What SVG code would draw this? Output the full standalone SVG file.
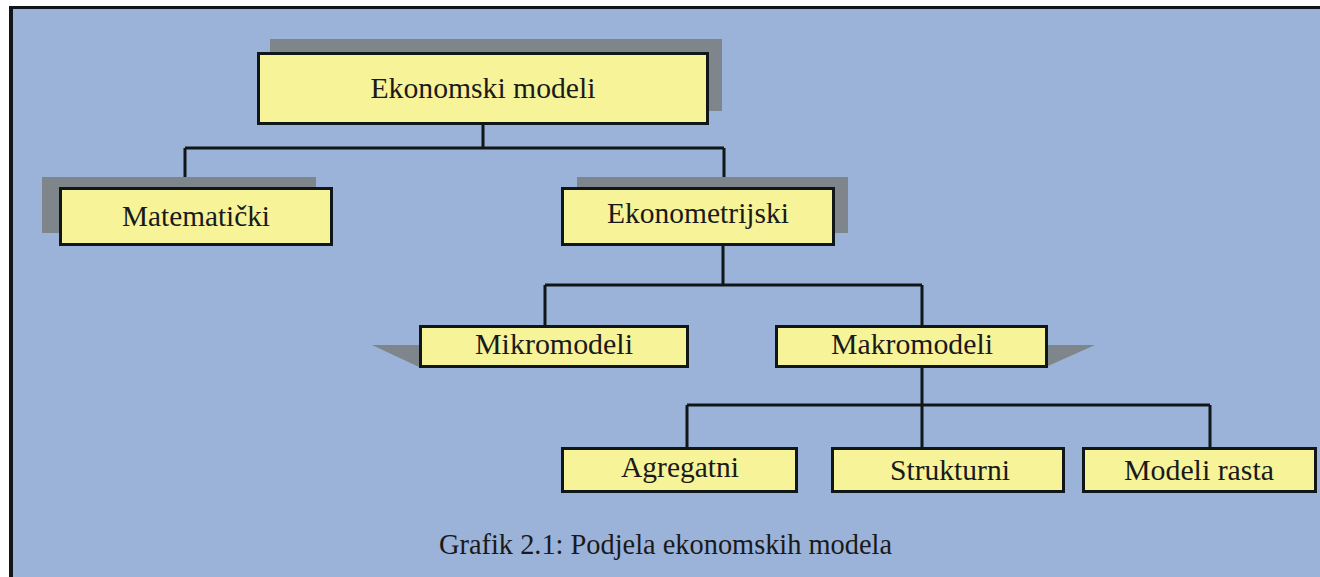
<svg xmlns="http://www.w3.org/2000/svg" width="1320" height="577" viewBox="0 0 1320 577">
<style>
.bg{fill:#9BB3D8}
.frame{fill:#111719}
.shadow{fill:#7F868B}
.box{fill:#F7F399;stroke:#111719;stroke-width:3}
.lbl{font-family:"Liberation Serif","Times New Roman",serif;font-size:29px;fill:#1a1a1a;text-anchor:middle}
.cap{font-family:"Liberation Serif","Times New Roman",serif;font-size:29px;fill:#1a1a1a}
.conn{fill:none;stroke:#111719;stroke-width:3}
</style>
<rect x="0" y="0" width="1320" height="577" fill="#ffffff"/>
<rect class="bg" x="9" y="6" width="1311" height="571"/>
<rect class="frame" x="9" y="6" width="1311" height="3"/>
<rect class="frame" x="9" y="6" width="4" height="571"/>

<g id="connectors">
<path class="conn" d="M483 125 V148 M185 148 H724 M185 148 V187 M724 148 V187"/>
<path class="conn" d="M723 246 V285 M545 285 H922 M545 285 V325 M922 285 V325"/>
<path class="conn" d="M922 368 V405 M687 405 H1210 M687 405 V447 M922 405 V447 M1210 405 V447"/>
</g>

<g id="node-ekonomski-modeli">
<rect class="shadow" x="270" y="39" width="452" height="72"/>
<rect class="box" x="258.5" y="53.5" width="449" height="70"/>
<text class="lbl" x="483" y="98" textLength="225" lengthAdjust="spacingAndGlyphs">Ekonomski modeli</text>
</g>

<g id="node-matematicki">
<rect class="shadow" x="42" y="177" width="274" height="56"/>
<rect class="box" x="60.5" y="188.5" width="271" height="56"/>
<text class="lbl" x="196" y="226" textLength="148" lengthAdjust="spacingAndGlyphs">Matematički</text>
</g>

<g id="node-ekonometrijski">
<rect class="shadow" x="577" y="177" width="271" height="56"/>
<rect class="box" x="562.5" y="188.5" width="271" height="56"/>
<text class="lbl" x="698" y="223" textLength="182" lengthAdjust="spacingAndGlyphs">Ekonometrijski</text>
</g>

<g id="node-mikromodeli">
<polygon class="shadow" points="372,345 419,345 419,367"/>
<rect class="box" x="420.5" y="326.5" width="267" height="40"/>
<text class="lbl" x="554" y="354" textLength="158" lengthAdjust="spacingAndGlyphs">Mikromodeli</text>
</g>

<g id="node-makromodeli">
<polygon class="shadow" points="1048,345 1095,345 1048,366"/>
<rect class="box" x="776.5" y="326.5" width="270" height="40"/>
<text class="lbl" x="912" y="354" textLength="162" lengthAdjust="spacingAndGlyphs">Makromodeli</text>
</g>

<g id="node-agregatni">
<rect class="box" x="562.5" y="448.5" width="234" height="43"/>
<text class="lbl" x="680" y="477" textLength="118" lengthAdjust="spacingAndGlyphs">Agregatni</text>
</g>

<g id="node-strukturni">
<rect class="box" x="832.5" y="448.5" width="231" height="43"/>
<text class="lbl" x="950" y="480" textLength="120" lengthAdjust="spacingAndGlyphs">Strukturni</text>
</g>

<g id="node-modeli-rasta">
<rect class="box" x="1083.5" y="448.5" width="232" height="43"/>
<text class="lbl" x="1199" y="480" textLength="150" lengthAdjust="spacingAndGlyphs">Modeli rasta</text>
</g>

<text class="cap" x="439" y="554" textLength="453" lengthAdjust="spacingAndGlyphs">Grafik 2.1: Podjela ekonomskih modela</text>
</svg>
